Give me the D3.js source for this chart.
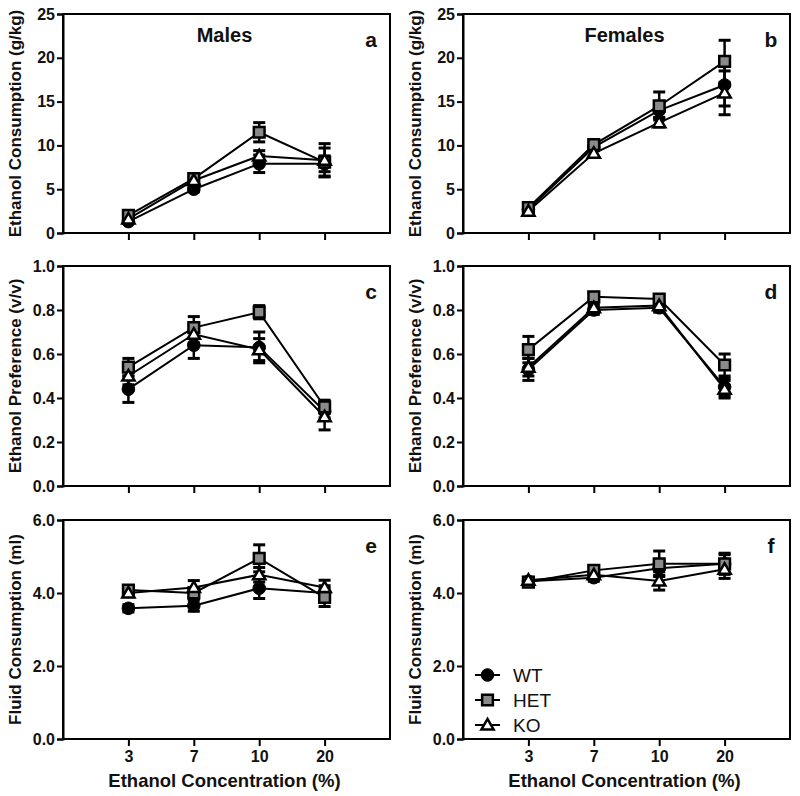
<!DOCTYPE html>
<html>
<head>
<meta charset="utf-8">
<script src="https://cdn.jsdelivr.net/npm/d3@7"></script>
<style>
  body { margin: 0; background: #fff; }
  svg { display: block; }
  text { font-family: "Liberation Sans", Arial, sans-serif; }
</style>
</head>
<body>
<svg id="chart" width="800" height="796"></svg>
<script>
// ---------- data ----------
const categories = ["3", "7", "10", "20"];
const seriesNames = ["WT", "HET", "KO"];

// Panel a: Males, ethanol consumption (g/kg)
const wtA = [1.3, 5.0, 7.9, 7.9],   wtAErr = [0.2, 0.3, 1.0, 0.9];
const hetA = [2.0, 6.2, 11.5, 8.1], hetAErr = [0.2, 0.3, 1.1, 1.6];
const koA = [1.6, 6.0, 8.8, 8.3],   koAErr = [0.2, 0.3, 0.6, 1.9];
// Panel b: Females, ethanol consumption (g/kg)
const wtB = [2.7, 9.8, 14.0, 16.9],  wtBErr = [0.3, 0.4, 0.8, 2.4];
const hetB = [2.9, 10.1, 14.5, 19.6], hetBErr = [0.3, 0.4, 1.6, 2.4];
const koB = [2.5, 9.1, 12.6, 16.0],  koBErr = [0.3, 0.4, 0.5, 2.5];
// Panel c: Males, ethanol preference (v/v)
const wtC = [0.44, 0.64, 0.63, 0.34],  wtCErr = [0.06, 0.06, 0.07, 0.03];
const hetC = [0.54, 0.72, 0.79, 0.36], hetCErr = [0.04, 0.05, 0.03, 0.03];
const koC = [0.50, 0.69, 0.62, 0.315], koCErr = [0.04, 0.04, 0.05, 0.06];
// Panel d: Females, ethanol preference (v/v)
const wtD = [0.53, 0.80, 0.81, 0.45],  wtDErr = [0.05, 0.02, 0.02, 0.04];
const hetD = [0.62, 0.86, 0.85, 0.55], hetDErr = [0.06, 0.02, 0.02, 0.05];
const koD = [0.54, 0.81, 0.82, 0.44],  koDErr = [0.04, 0.02, 0.02, 0.04];
// Panel e: Males, fluid consumption (ml)
const wtE = [3.58, 3.65, 4.13, 4.0],  wtEErr = [0.1, 0.15, 0.28, 0.2];
const hetE = [4.08, 4.0, 4.95, 3.88], hetEErr = [0.1, 0.15, 0.37, 0.25];
const koE = [4.0, 4.15, 4.5, 4.15],   koEErr = [0.1, 0.19, 0.2, 0.2];
// Panel f: Females, fluid consumption (ml)
const wtF = [4.32, 4.42, 4.68, 4.8],  wtFErr = [0.08, 0.1, 0.2, 0.25];
const hetF = [4.3, 4.62, 4.8, 4.8],   hetFErr = [0.08, 0.1, 0.35, 0.29];
const koF = [4.35, 4.5, 4.33, 4.65],  koFErr = [0.08, 0.1, 0.25, 0.25];

const ticks1 = [0, 5, 10, 15, 20, 25];
const ticks2 = [0, 0.2, 0.4, 0.6, 0.8, 1.0];
const ticks3 = [0, 2, 4, 6];

const panels = [
  {label: "a", title: "Males", col: 0, row: 0, ymax: 25, ticks: ticks1, fmt: d3.format("d"), ylab: "Ethanol Consumption (g/kg)",
   s: [[wtA, wtAErr], [hetA, hetAErr], [koA, koAErr]]},
  {label: "b", title: "Females", col: 1, row: 0, ymax: 25, ticks: ticks1, fmt: d3.format("d"), ylab: "Ethanol Consumption (g/kg)",
   s: [[wtB, wtBErr], [hetB, hetBErr], [koB, koBErr]]},
  {label: "c", title: "", col: 0, row: 1, ymax: 1, ticks: ticks2, fmt: d3.format(".1f"), ylab: "Ethanol Preference (v/v)",
   s: [[wtC, wtCErr], [hetC, hetCErr], [koC, koCErr]]},
  {label: "d", title: "", col: 1, row: 1, ymax: 1, ticks: ticks2, fmt: d3.format(".1f"), ylab: "Ethanol Preference (v/v)",
   s: [[wtD, wtDErr], [hetD, hetDErr], [koD, koDErr]]},
  {label: "e", title: "", col: 0, row: 2, ymax: 6, ticks: ticks3, fmt: d3.format(".1f"), ylab: "Fluid Consumption (ml)",
   s: [[wtE, wtEErr], [hetE, hetEErr], [koE, koEErr]]},
  {label: "f", title: "", col: 1, row: 2, ymax: 6, ticks: ticks3, fmt: d3.format(".1f"), ylab: "Fluid Consumption (ml)",
   s: [[wtF, wtFErr], [hetF, hetFErr], [koF, koFErr]], legend: true}
];

// ---------- layout ----------
const colX = [[63, 390], [463, 790]];
const rowY = [[14, 233], [266, 486], [520, 739]];

const svg = d3.select("#chart");

const symbols = [
  {type: d3.symbolCircle, size: 125, fill: "#000"},
  {type: d3.symbolSquare, size: 115, fill: "#8a8a8a"},
  {type: d3.symbolTriangle, size: 65, fill: "#fff"}
];

function drawMarker(g, i, x, y) {
  const sym = symbols[i];
  g.append("path")
    .attr("d", d3.symbol().type(sym.type).size(sym.size)())
    .attr("transform", `translate(${x},${y})` + (i === 2 ? " translate(0,1)" : ""))
    .attr("fill", sym.fill)
    .attr("stroke", "#000")
    .attr("stroke-width", i === 0 ? 1 : 2.5);
}

panels.forEach(p => {
  const [x0, x1] = colX[p.col];
  const [y0, y1] = rowY[p.row];
  const x = d3.scaleLinear().domain([0, categories.length + 1]).range([x0, x1]);
  const y = d3.scaleLinear().domain([0, p.ymax]).range([y1, y0]);
  const g = svg.append("g");

  // frame
  g.append("rect").attr("x", x0).attr("y", y0).attr("width", x1 - x0).attr("height", y1 - y0)
    .attr("fill", "none").attr("stroke", "#000").attr("stroke-width", 2);

  // y axis
  const yAxis = g.append("g").attr("transform", `translate(${x0},0)`)
    .call(d3.axisLeft(y).tickValues(p.ticks).tickFormat(p.fmt).tickSize(6).tickPadding(2));
  yAxis.select(".domain").attr("stroke-width", 2);
  yAxis.selectAll(".tick line").attr("stroke-width", 2);
  yAxis.selectAll(".tick text").attr("font-size", 16).attr("font-weight", "bold")
    .attr("font-family", "Liberation Sans, Arial, sans-serif").attr("fill", "#111");

  // x axis
  const xAxis = g.append("g").attr("transform", `translate(0,${y1})`)
    .call(d3.axisBottom(x).tickValues(categories.map((c, i) => i + 1))
      .tickFormat(p.row === 2 ? (d => categories[d - 1]) : () => "")
      .tickSize(7).tickPadding(5));
  xAxis.select(".domain").remove();
  xAxis.selectAll(".tick line").attr("stroke-width", 2);
  xAxis.selectAll(".tick text").attr("font-size", 16).attr("font-weight", "bold")
    .attr("font-family", "Liberation Sans, Arial, sans-serif").attr("fill", "#111");

  // y label
  g.append("text")
    .attr("transform", `translate(${x0 - 42},${(y0 + y1) / 2}) rotate(-90)`)
    .attr("text-anchor", "middle").attr("font-size", 17).attr("font-weight", "bold").attr("fill", "#111")
    .text(p.ylab);

  // x label
  if (p.row === 2) {
    g.append("text").attr("x", (x0 + x1) / 2 - 2).attr("y", 787)
      .attr("text-anchor", "middle").attr("font-size", 18.5).attr("font-weight", "bold").attr("fill", "#111")
      .text("Ethanol Concentration (%)");
  }

  // title & panel label
  if (p.title) {
    g.append("text").attr("x", x(2.5) - 2).attr("y", 42).attr("text-anchor", "middle")
      .attr("font-size", 20).attr("font-weight", "bold").attr("fill", "#111").text(p.title);
  }
  g.append("text").attr("x", x1 - 19).attr("y", y0 + 33).attr("text-anchor", "middle")
    .attr("font-size", 21).attr("font-weight", "bold").attr("fill", "#111").text(p.label);

  // series lines
  const line = d3.line().x((d, i) => x(i + 1)).y(d => y(d));
  p.s.forEach(([vals]) => {
    g.append("path").attr("d", line(vals)).attr("fill", "none").attr("stroke", "#000").attr("stroke-width", 2);
  });
  // error bars
  p.s.forEach(([vals, errs]) => {
    vals.forEach((v, i) => {
      const cx = x(i + 1);
      const top = y(v + errs[i]), bot = y(v - errs[i]);
      g.append("line").attr("x1", cx).attr("x2", cx).attr("y1", top).attr("y2", bot)
        .attr("stroke", "#000").attr("stroke-width", 2.5);
      [top, bot].forEach(yy => {
        g.append("line").attr("x1", cx - 6).attr("x2", cx + 6).attr("y1", yy).attr("y2", yy)
          .attr("stroke", "#000").attr("stroke-width", 3);
      });
    });
  });
  // markers
  p.s.forEach(([vals], si) => {
    vals.forEach((v, i) => drawMarker(g, si, x(i + 1), y(v)));
  });

  // legend
  if (p.legend) {
    seriesNames.forEach((name, si) => {
      const ly = 675 + si * 25;
      g.append("line").attr("x1", 475).attr("x2", 500).attr("y1", ly).attr("y2", ly)
        .attr("stroke", "#000").attr("stroke-width", 2);
      drawMarker(g, si, 487.5, ly);
      g.append("text").attr("x", 513).attr("y", ly + 6.5).attr("font-size", 19).attr("fill", "#111").text(name);
    });
  }
});
</script>
</body>
</html>
